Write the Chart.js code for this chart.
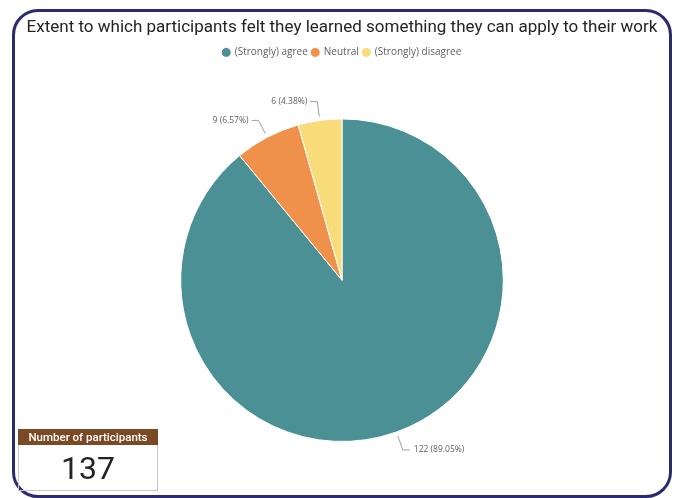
<!DOCTYPE html>
<html>
<head>
<meta charset="utf-8">
<script src="https://cdn.jsdelivr.net/npm/chart.js@4.4.1/dist/chart.umd.min.js"></script>
<style>
  html, body { margin: 0; padding: 0; background: #fff; width: 676px; height: 498px; overflow: hidden; }
  #frame {
    position: absolute; left: 12px; top: 9px; width: 660px; height: 489px;
    border: 3px solid #2c2b6e; border-radius: 26px; box-sizing: border-box;
  }
  #wrap { position: absolute; left: 0; top: 0; width: 676px; height: 498px; }
  #pie { width: 676px; height: 498px; }
  #card { position: absolute; left: 18px; top: 429px; width: 140px; font-family: Roboto, sans-serif; }
  #card .head {
    background: #7b4a24; color: #fff; font-size: 11.5px; font-weight: 500;
    text-align: center; height: 16px; line-height: 16px;
  }
  #card .val {
    border: 1px solid #c8c8c8; border-top: none; height: 46px; line-height: 47px;
    text-align: center; font-size: 32px; color: #252423; box-sizing: border-box;
  }
</style>
</head>
<body>
<div id="frame"></div>
<div id="wrap"><canvas id="pie" width="676" height="498"></canvas></div>
<div id="card">
  <div class="head">Number of participants</div>
  <div class="val" id="total"></div>
</div>
<script>
// Responses
const categories = ['(Strongly) agree', 'Neutral', '(Strongly) disagree'];
const counts = [122, 9, 6];
const sliceColors = ['#4a9094', '#f0914b', '#f8dc79'];
const totalParticipants = 137;

document.getElementById('total').textContent = totalParticipants;

// extra gap between the legend and the pie
const legendGap = {
    id: 'legendGap',
    beforeInit(chart) {
        const origFit = chart.legend.fit;
        chart.legend.fit = function () {
            origFit.bind(chart.legend)();
            this.height += 51;
        };
    }
};

// Leader lines + "n (p%)" labels, drawn outside each slice
const leaderLabels = {
    id: 'leaderLabels',
    afterDraw(chart) {
        const ctx = chart.ctx;
        const meta = chart.getDatasetMeta(0);
        const data = chart.data.datasets[0].data;
        const sum = data.reduce((a, b) => a + b, 0);
        ctx.save();
        ctx.strokeStyle = '#a0a0a0';
        ctx.lineWidth = 1;
        ctx.fillStyle = '#605e5c';
        ctx.font = '8.5px "Open Sans", sans-serif';
        ctx.textBaseline = 'middle';
        meta.data.forEach((arc, i) => {
            const p = arc.getProps(['x', 'y', 'startAngle', 'endAngle', 'outerRadius'], true);
            const mid = (p.startAngle + p.endAngle) / 2;
            const r1 = p.outerRadius + 4, r2 = p.outerRadius + 19;
            const x1 = p.x + Math.cos(mid) * r1, y1 = p.y + Math.sin(mid) * r1;
            const x2 = p.x + Math.cos(mid) * r2, y2 = p.y + Math.sin(mid) * r2;
            const right = Math.cos(mid) >= 0;
            const x3 = x2 + (right ? 7 : -7);
            ctx.beginPath();
            ctx.moveTo(x1, y1);
            ctx.lineTo(x2, y2);
            ctx.lineTo(x3, y2);
            ctx.stroke();
            const pct = (data[i] / sum * 100).toFixed(2);
            ctx.textAlign = right ? 'left' : 'right';
            ctx.fillText(data[i] + ' (' + pct + '%)', x3 + (right ? 4 : -3), y2);
        });
        ctx.restore();
    }
};

new Chart(document.getElementById('pie'), {
    type: 'pie',
    data: {
        labels: categories,
        datasets: [{
            data: counts,
            backgroundColor: sliceColors,
            borderColor: '#ffffff',
            borderWidth: 1
        }]
    },
    options: {
        responsive: false,
        animation: false,
        devicePixelRatio: 1,
        layout: { padding: { left: 20, right: 12, top: 18, bottom: 56 } },
        plugins: {
            title: {
                display: true,
                text: 'Extent to which participants felt they learned something they can apply to their work',
                color: '#252423',
                font: { family: 'Roboto', size: 17, weight: 'normal' },
                padding: { top: 0, bottom: 5 }
            },
            legend: {
                display: true,
                position: 'top',
                labels: {
                    usePointStyle: true,
                    pointStyle: 'circle',
                    boxWidth: 7,
                    boxHeight: 7,
                    padding: 4,
                    color: '#605e5c',
                    font: { family: 'Open Sans', size: 10 }
                }
            },
            tooltip: { enabled: false }
        }
    },
    plugins: [legendGap, leaderLabels]
});
</script>
</body>
</html>
